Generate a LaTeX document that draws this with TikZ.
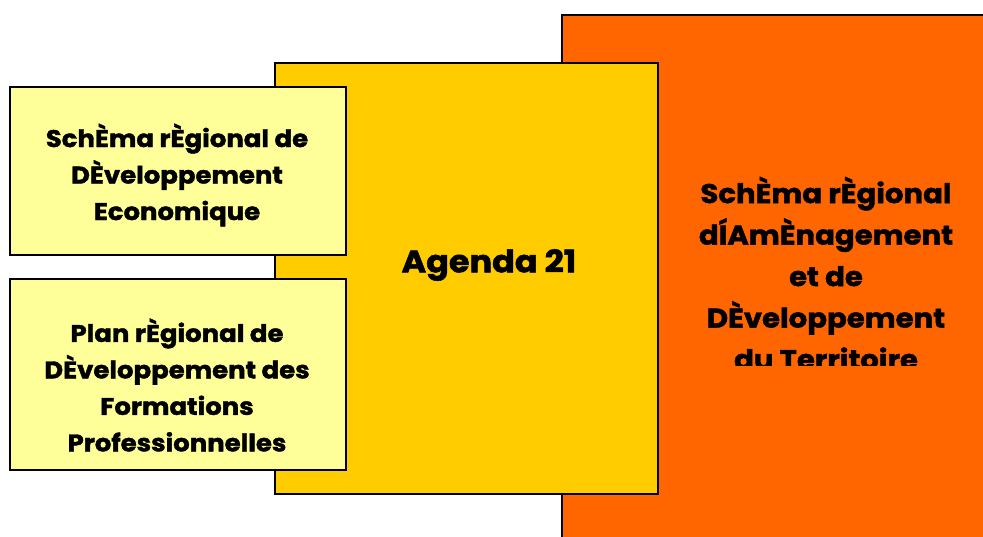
\documentclass[tikz,border=0pt]{standalone}
\usepackage{fontspec}
\setmainfont{Poppins}[FakeStretch=1.08, BoldFeatures={FakeBold=1.6}]
\definecolor{orangebox}{HTML}{FF6600}
\definecolor{agendabox}{HTML}{FFCC00}
\definecolor{paleBox}{HTML}{FFFF99}
\tikzset{
  plan/.style={draw, line width=1.2pt, inner sep=0pt},
  planlabel/.style={align=center, font=\bfseries\fontsize{24}{36.5}\selectfont},
}
\begin{document}
\begin{tikzpicture}[x=1pt,y=-1pt]
\useasboundingbox (0,0) rectangle (983,537);
\node(sratd) at (776,280) [plan, fill=orangebox, minimum width=428pt, minimum height=530pt]{};
\node(agenda) at (466.5,278.5) [plan, fill=agendabox, minimum width=383pt, minimum height=431pt]{};
\node(srde) at (178,171) [plan, fill=paleBox, minimum width=336pt, minimum height=168pt]{};
\node(prdfp) at (178,374.5) [plan, fill=paleBox, minimum width=336pt, minimum height=191pt]{};

\node(srdetext) at (177,175) [planlabel]{SchÈma rÈgional de\\DÈveloppement\\Economique};
\node(prdfptext) at (177,385) [planlabel]{Plan rÈgional de\\DÈveloppement des\\Formations\\Professionnelles};
\node(agendatext) at (489,265) [planlabel, font=\bfseries\fontsize{31}{37}\selectfont]{Agenda 21};
\begin{scope}
\clip (563,16) rectangle (983,366);
\node(sratdtext) at (826,273) [planlabel, font=\bfseries\fontsize{27}{41.5}\selectfont]{SchÈma rÈgional\\dÍAmÈnagement\\et de\\DÈveloppement\\du Territoire};
\end{scope}
\end{tikzpicture}
\end{document}
